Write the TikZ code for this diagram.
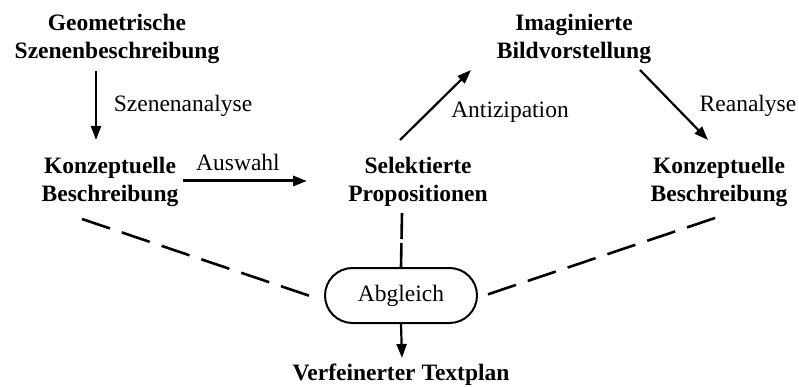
\documentclass[tikz,border=0pt]{standalone}
\usepackage{fontspec}
\setmainfont{Liberation Serif}
\usetikzlibrary{arrows.meta,shapes.misc}
\begin{document}
\begin{tikzpicture}[x=1pt,y=-1pt,
  every node/.style={font=\fontsize{23.5}{28}\selectfont, inner sep=0pt},
  bnode/.style={align=center, font=\fontsize{23.5}{28}\selectfont\bfseries},
  lab/.style={anchor=base},
  arr/.style={line width=2.2pt, -{Triangle[length=14pt,width=10pt]}},
  dsh/.style={line width=2.6pt, dash pattern=on 29.5pt off 12.5pt},
  vdsh/.style={line width=2.6pt, dash pattern=on 26pt off 4pt},
  abox/.style={draw, line width=2pt, rounded rectangle, minimum width=152pt, minimum height=55pt}]
\useasboundingbox (0,0) rectangle (799,387);
\node[bnode] (geo) at (117,38.5) {Geometrische\\Szenenbeschreibung};
\node[bnode] (kb1) at (110,181.5) {Konzeptuelle\\Beschreibung};
\node[bnode] (sp) at (418,181.5) {Selektierte\\Propositionen};
\node[bnode] (img) at (574,38.5) {Imaginierte\\Bildvorstellung};
\node[bnode] (kb2) at (719,181.5) {Konzeptuelle\\Beschreibung};
\node[abox] (abg) at (401,295.5) {Abgleich};
\node[bnode, anchor=base] (vt) at (401,380) {Verfeinerter Textplan};
\coordinate (g1) at (96,71);   \coordinate (k1) at (96,140);
\coordinate (k1r) at (183,181); \coordinate (spl) at (307,181);
\coordinate (spt) at (400,140); \coordinate (imb) at (471,70);
\coordinate (imr) at (640,70); \coordinate (k2t) at (708,140);
\coordinate (k1b) at (82,219); \coordinate (abl) at (313,297);
\coordinate (k2b) at (715,218); \coordinate (abr) at (483,296);
\coordinate (spb) at (402,213);
\coordinate (vtt) at (402,358);
\draw[arr] (g1) -- (k1);
\draw[arr, line width=3pt] (k1r) -- (spl);
\draw[arr] (spt) -- (imb);
\draw[arr] (imr) -- (k2t);
\draw[dsh] (k1b) -- (abl);
\draw[dsh] (k2b) -- (abr);
\draw[vdsh] (spb) -- (abg.north);
\draw[arr] (abg.south) -- (vtt);
\node[lab] (l1) at (183,112) {Szenenanalyse};
\node[lab] (l2) at (238,171) {Auswahl};
\node[lab] (l3) at (510,118) {Antizipation};
\node[lab] (l4) at (748,112) {Reanalyse};
\end{tikzpicture}
\end{document}
